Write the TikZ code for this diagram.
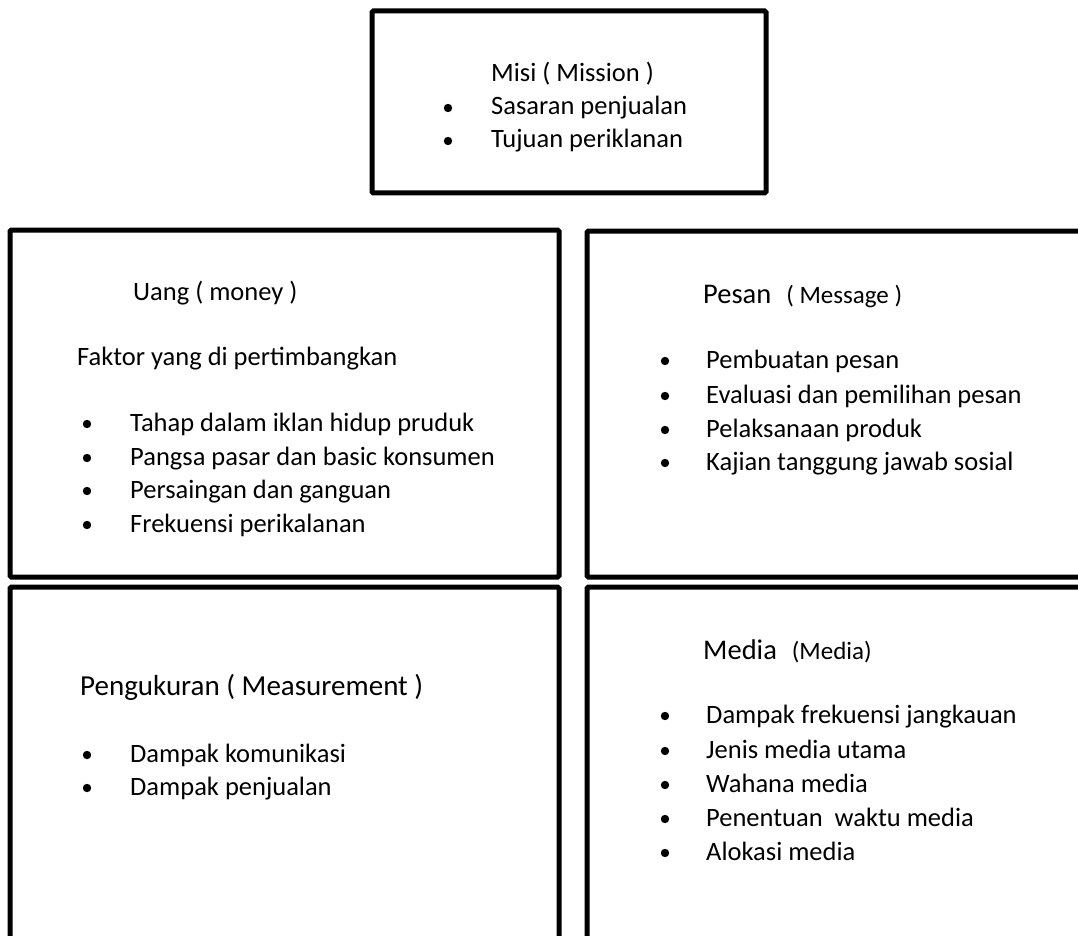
\documentclass[tikz,border=0pt]{standalone}
\usepackage{fontspec}
\setmainfont{Carlito}
\tikzset{
  kotak/.style={line width=5pt,rounded corners=1.5pt},
  teks/.style={anchor=base west,inner sep=0pt,font=\fontsize{26.5}{32}\selectfont},
  judul/.style={teks,font=\fontsize{28.5}{34}\selectfont},
}
\newcommand{\kecil}{\fontsize{25}{30}\selectfont}
\begin{document}
\begin{tikzpicture}[x=1pt,y=-1pt]
\useasboundingbox (0,0) rectangle (1078,936);
\clip (0,0) rectangle (1078,936);
% misi
\draw [kotak] (372,11) rectangle (766,193);
\node [teks] (misi) at (491,82) {Misi ( Mission )};
\foreach \y/\t [count=\i] in {115/Sasaran penjualan,148/Tujuan periklanan} {
  \node [teks] (misi\i) at (491,\y) {\t};
  \fill (448,\y-7) circle (4.2);
}
% uang
\draw [kotak] (10,230) rectangle (559,577);
\node [teks] (uang) at (133,300) {Uang ( money )};
\node [teks] (faktor) at (77,365) {Faktor yang di pertimbangkan};
\foreach \y/\t [count=\i] in {431/Tahap dalam iklan hidup pruduk,465/Pangsa pasar dan basic konsumen,
    498/Persaingan dan ganguan,532/Frekuensi perikalanan} {
  \node [teks] (uang\i) at (130,\y) {\t};
  \fill (87,\y-7) circle (4.2);
}
% pesan
\draw [kotak] (587,231) rectangle (1136,577);
\node [judul] (pesan) at (703,303) {Pesan\hspace{15pt}{\kecil( Message )}};
\foreach \y/\t [count=\i] in {368/Pembuatan pesan,403/Evaluasi dan pemilihan pesan,
    437/Pelaksanaan produk,470/Kajian tanggung jawab sosial} {
  \node [teks] (pesan\i) at (706,\y) {\t};
  \fill (665,\y-7) circle (4.2);
}
% pengukuran
\draw [kotak] (10,587) rectangle (559,990);
\node [judul,font=\fontsize{29}{35}\selectfont] (ukur) at (80,695) {Pengukuran ( Measurement )};
\foreach \y/\t [count=\i] in {762/Dampak komunikasi,795/Dampak penjualan} {
  \node [teks] (ukur\i) at (130,\y) {\t};
  \fill (87,\y-7) circle (4.2);
}
% media
\draw [kotak] (587,587) rectangle (1136,990);
\node [judul] (media) at (703,659) {Media\hspace{15pt}{\kecil(Media)}};
\foreach \y/\t [count=\i] in {723/Dampak frekuensi jangkauan,758/Jenis media utama,792/Wahana media,
    826/Penentuan\ \ waktu media,860/Alokasi media} {
  \node [teks] (media\i) at (706,\y) {\t};
  \fill (665,\y-7) circle (4.2);
}
\end{tikzpicture}
\end{document}
